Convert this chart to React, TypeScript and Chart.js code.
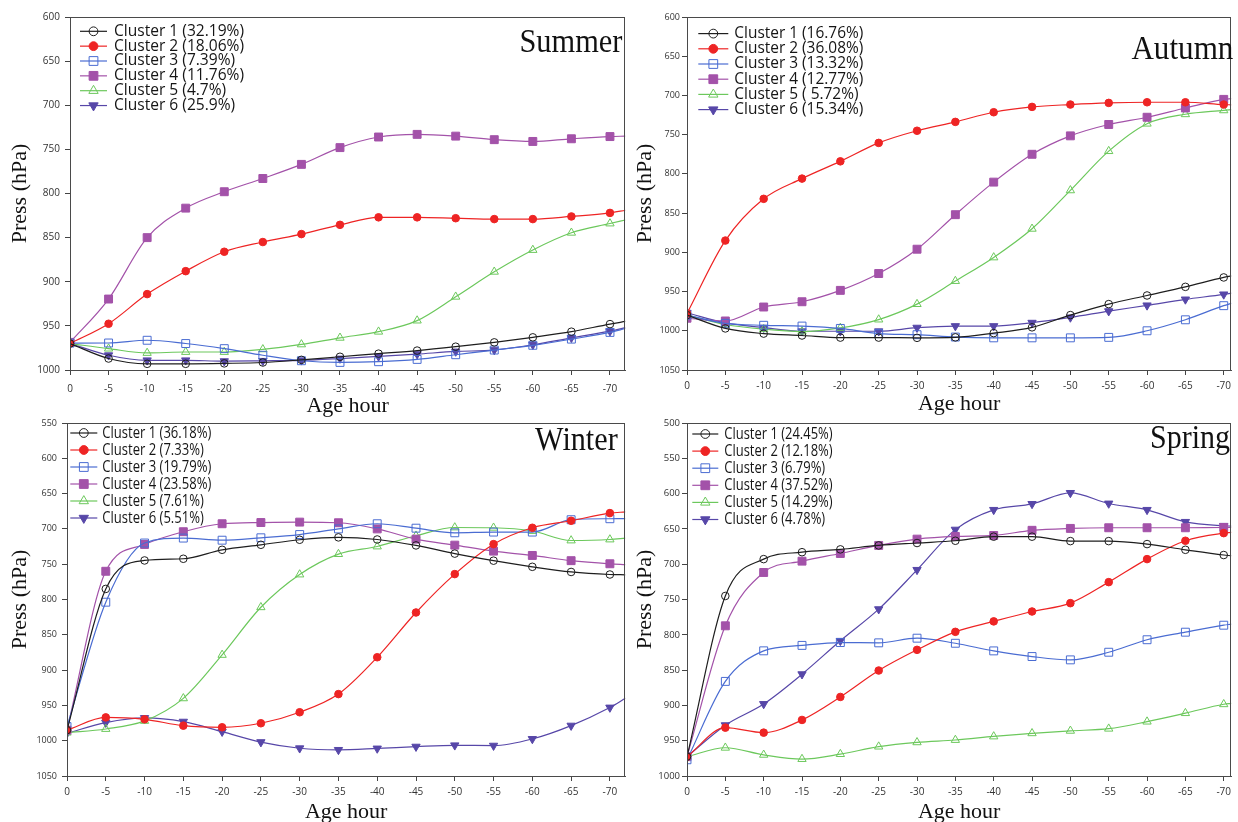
import React, { useEffect, useRef } from 'react';
import { Chart, registerables } from 'chart.js';
import { drawPoint } from 'chart.js/helpers';

Chart.register(...registerables);

// ---------- data ----------
const hours = [0, -5, -10, -15, -20, -25, -30, -35, -40, -45, -50, -55, -60, -65, -70];
const hourTicks = [-70, -65, -60, -55, -50, -45, -40, -35, -30, -25, -20, -15, -10, -5, 0];

const summerYTicks = [600, 650, 700, 750, 800, 850, 900, 950, 1000];
const autumnYTicks = [600, 650, 700, 750, 800, 850, 900, 950, 1000, 1050];
const winterYTicks = [550, 600, 650, 700, 750, 800, 850, 900, 950, 1000, 1050];
const springYTicks = [500, 550, 600, 650, 700, 750, 800, 850, 900, 950, 1000];

const summerLabels = ['Cluster 1 (32.19%)', 'Cluster 2 (18.06%)', 'Cluster 3 (7.39%)', 'Cluster 4 (11.76%)', 'Cluster 5 (4.7%)', 'Cluster 6 (25.9%)'];
const autumnLabels = ['Cluster 1 (16.76%)', 'Cluster 2 (36.08%)', 'Cluster 3 (13.32%)', 'Cluster 4 (12.77%)', 'Cluster 5 ( 5.72%)', 'Cluster 6 (15.34%)'];
const winterLabels = ['Cluster 1 (36.18%)', 'Cluster 2 (7.33%)', 'Cluster 3 (19.79%)', 'Cluster 4 (23.58%)', 'Cluster 5 (7.61%)', 'Cluster 6 (5.51%)'];
const springLabels = ['Cluster 1 (24.45%)', 'Cluster 2 (12.18%)', 'Cluster 3 (6.79%)', 'Cluster 4 (37.52%)', 'Cluster 5 (14.29%)', 'Cluster 6 (4.78%)'];

const summerC1 = [970, 987, 993, 993, 992.5, 991.5, 988.5, 985, 981.5, 978, 973.6, 968.7, 963, 956.6, 948];
const summerC2 = [970, 947.6, 914, 888, 866, 855, 846, 835.5, 827, 827, 828, 829, 829, 826, 822];
const summerC3 = [969.5, 969.4, 966.3, 970, 975.8, 983.3, 989.5, 991.4, 990.6, 988, 982.7, 977.4, 972, 965, 957.4];
const summerC4 = [968.7, 919.6, 850, 816.6, 798, 783, 767, 748, 736, 733, 735, 739, 741, 738, 735.5];
const summerC5 = [970, 975.8, 980.7, 979.6, 979.6, 976.6, 971, 963.5, 956.6, 944, 917, 888.7, 864, 844.5, 834];
const summerC6 = [970, 983.3, 989, 989, 990, 989.6, 989, 987, 984.6, 982, 979, 977.4, 971.4, 963.5, 956];
const summerEdge = [945, 819, 953, 735, 830, 952];

const autumnC1 = [980, 997, 1003.6, 1006, 1008.7, 1008.7, 1009, 1008.4, 1003, 995.6, 980, 966, 955, 944, 932];
const autumnC2 = [977.8, 885, 831.8, 806, 784, 760.5, 745, 733.7, 721.4, 714.6, 711.6, 709.5, 708.7, 708.7, 711.6];
const autumnC3 = [980, 990.5, 993, 994, 997, 1003.6, 1005, 1008, 1009, 1009, 1009, 1008.4, 1000, 986, 968];
const autumnC4 = [984, 987.5, 969.7, 963, 948.5, 927, 896, 852, 810.5, 775, 751.5, 737, 727.8, 716, 705];
const autumnC5 = [980, 992, 998, 1001, 996.4, 985.7, 966, 936.6, 906.5, 870, 821, 771, 736, 724, 719];
const autumnC6 = [977, 990, 996, 1000.6, 1000.6, 1000.6, 996, 994, 994, 989.7, 983, 975, 967.6, 960, 953.6];
const autumnEdge = [930, 712, 965, 704, 718, 952];

const winterC1 = [985, 785, 744.7, 742.3, 729.6, 722.5, 715.4, 712, 715, 723.4, 735, 745, 753.7, 761, 764.6];
const winterC2 = [985, 967, 969.7, 978.7, 981, 975.3, 959.7, 934, 881.8, 818.4, 764, 721.6, 698.4, 688.5, 677.6];
const winterC3 = [980, 803.8, 720, 713, 716, 712.6, 708, 700, 692.7, 699, 705.5, 704.5, 704.5, 687, 685.6];
const winterC4 = [985, 760, 722, 704, 692.7, 691, 690.4, 691.3, 700, 714.5, 723, 731.5, 737.6, 745, 749.4];
const winterC5 = [988.6, 983.4, 972, 940, 878.5, 811, 764.6, 735.7, 724.9, 709.7, 698, 698.4, 703, 716.4, 715];
const winterC6 = [989.5, 974.4, 967.8, 973, 987.2, 1002, 1010.7, 1013, 1011, 1008.4, 1006.5, 1007, 997.5, 978.6, 953];
const winterEdge = [765, 676, 685.5, 750.5, 713, 940];

const springC1 = [972.6, 745, 692.8, 683, 679, 673.4, 670, 666.8, 661, 661, 667.3, 667.3, 671.5, 679.6, 687];
const springC2 = [972.6, 931.5, 938.6, 920.6, 888, 850.6, 821.3, 795.8, 781, 767, 755.2, 725.4, 692.8, 666.8, 656];
const springC3 = [977, 866, 822.7, 815, 811, 811.4, 804.8, 812, 822.8, 830.8, 835.5, 824.7, 807, 796.3, 786.4];
const springC4 = [972.6, 787.3, 711.7, 695.7, 684.8, 673.4, 664.5, 660.7, 659.3, 652, 649.3, 648.4, 648.4, 648.4, 648];
const springC5 = [972.6, 960, 970, 976, 969, 958.4, 952.3, 949, 944, 939.5, 936, 933, 923, 911, 898.4];
const springC6 = [972.6, 928, 898, 855.8, 808.5, 763.7, 708, 651, 623, 614.6, 599, 614, 623, 640, 645.6];
const springEdge = [688, 655, 785, 648, 897, 646];

// ---------- styles ----------
const seriesStyles = [
  { color: '#1e1e1e', pointStyle: 'circle', filled: false, radius: 3.8, rotation: 0 },
  { color: '#ee2424', pointStyle: 'circle', filled: true, radius: 3.8, rotation: 0 },
  { color: '#4a6cd2', pointStyle: 'rect', filled: false, radius: 5.6, rotation: 0 },
  { color: '#a352a9', pointStyle: 'rect', filled: true, radius: 5.6, rotation: 0 },
  { color: '#6cc85c', pointStyle: 'triangle', filled: false, radius: 4.8, rotation: 0 },
  { color: '#5747a8', pointStyle: 'triangle', filled: true, radius: 4.8, rotation: 180 },
];

const SANS = '"Open Sans", "Noto Sans", sans-serif';
const SERIF = '"Liberation Serif", "DejaVu Serif", serif';

const panels = [
  {
    key: 'summer', title: 'Summer', labels: summerLabels,
    series: [summerC1, summerC2, summerC3, summerC4, summerC5, summerC6], edge: summerEdge,
    yTicks: summerYTicks, yMin: 600, yMax: 1000, xEnd: -72,
    box: { left: 0, top: 0, width: 632, height: 422 },
    area: { left: 70, right: 629, top: 17, bottom: 370 },
    yTickSize: 10, yTickPad: 5, xTickPad: 8, yTitlePad: 7, xTitlePad: 3,
    titlePos: { dx: -3, dy: 35, width: 103 },
    legend: { dy: 14.3, step: 14.85, x0: 10, x1: 37, mx: 23.5, tx: 44, width: 130, size: 15.5 },
  },
  {
    key: 'autumn', title: 'Autumn', labels: autumnLabels,
    series: [autumnC1, autumnC2, autumnC3, autumnC4, autumnC5, autumnC6], edge: autumnEdge,
    yTicks: autumnYTicks, yMin: 600, yMax: 1050, xEnd: -71,
    box: { left: 632, top: 0, width: 606, height: 422 },
    area: { left: 55, right: 606, top: 17, bottom: 370 },
    yTickSize: 9, yTickPad: 2, xTickPad: 5, yTitlePad: 0, xTitlePad: 5,
    titlePos: { dx: 2, dy: 41.6, width: 102 },
    legend: { dy: 16.6, step: 15.2, x0: 11.3, x1: 41.3, mx: 26.3, tx: 47.3, width: 129, size: 15.5 },
  },
  {
    key: 'winter', title: 'Winter', labels: winterLabels,
    series: [winterC1, winterC2, winterC3, winterC4, winterC5, winterC6], edge: winterEdge,
    yTicks: winterYTicks, yMin: 550, yMax: 1050, xEnd: -72,
    box: { left: 0, top: 410, width: 632, height: 420 },
    area: { left: 67, right: 627, top: 13, bottom: 366 },
    yTickSize: 9, yTickPad: 5, xTickPad: 5, yTitlePad: 7, xTitlePad: 5,
    titlePos: { dx: -7.7, dy: 26.5, width: 82.6 },
    legend: { dy: 10, step: 17, x0: 3.3, x1: 30.3, mx: 16.8, tx: 35.3, width: 109, size: 16 },
  },
  {
    key: 'spring', title: 'Spring', labels: springLabels,
    series: [springC1, springC2, springC3, springC4, springC5, springC6], edge: springEdge,
    yTicks: springYTicks, yMin: 500, yMax: 1000, xEnd: -71,
    box: { left: 632, top: 410, width: 606, height: 420 },
    area: { left: 55, right: 606, top: 13, bottom: 366 },
    yTickSize: 9.5, yTickPad: 2, xTickPad: 5, yTitlePad: 0, xTitlePad: 5,
    titlePos: { dx: -1.3, dy: 24.5, width: 80 },
    legend: { dy: 11, step: 17.1, x0: 5.3, x1: 31.3, mx: 18.3, tx: 37.3, width: 108.3, size: 16 },
  },
];

const decorPlugin = {
  id: 'decor',
  afterDraw(chart: any, _args: any, opts: any) {
    const { ctx, chartArea: a } = chart;
    const p = opts.panel;
    ctx.save();
    // full frame
    ctx.strokeStyle = '#4a4a4a';
    ctx.lineWidth = 1;
    ctx.strokeRect(Math.round(a.left) + 0.5, Math.round(a.top) + 0.5, Math.round(a.right - a.left) - 1, Math.round(a.bottom - a.top));

    // season title
    ctx.font = `34px ${SERIF}`;
    ctx.fillStyle = '#111';
    ctx.textAlign = 'right';
    ctx.textBaseline = 'alphabetic';
    const tw = ctx.measureText(p.title).width;
    const tsx = p.titlePos.width / tw;
    ctx.save();
    ctx.translate(a.right + p.titlePos.dx, a.top + p.titlePos.dy);
    ctx.scale(tsx, 1);
    ctx.fillText(p.title, 0, 0);
    ctx.restore();

    // legend
    const L = p.legend;
    ctx.font = `${L.size}px ${SANS}`;
    const w0 = ctx.measureText(p.labels[0]).width;
    const sx = L.width / w0;
    p.labels.forEach((lab: string, i: number) => {
      const st = seriesStyles[i];
      const y = a.top + L.dy + i * L.step;
      ctx.strokeStyle = st.color;
      ctx.lineWidth = 1.2;
      ctx.beginPath();
      ctx.moveTo(a.left + L.x0, y);
      ctx.lineTo(a.left + L.x1, y);
      ctx.stroke();
      ctx.fillStyle = st.filled ? st.color : 'rgba(0,0,0,0)';
      ctx.strokeStyle = st.color;
      ctx.lineWidth = 1;
      drawPoint(ctx, { pointStyle: st.pointStyle, radius: st.radius + 0.6, rotation: st.rotation, borderWidth: 1 } as any, a.left + L.mx, y);
      ctx.save();
      ctx.translate(a.left + L.tx, y);
      ctx.scale(sx, 1);
      ctx.fillStyle = '#151515';
      ctx.textAlign = 'left';
      ctx.textBaseline = 'middle';
      ctx.fillText(lab, 0, 0);
      ctx.restore();
    });
    ctx.restore();
  },
};

function Panel({ p }: { p: any }) {
  const ref = useRef<HTMLCanvasElement | null>(null);
  useEffect(() => {
    if (!ref.current) return;
    const n = hours.length;
    const datasets = p.series.map((vals: number[], i: number) => {
      const st = seriesStyles[i];
      const data = vals.map((v, j) => ({ x: hours[j], y: v }));
      data.push({ x: p.xEnd, y: p.edge[i] });
      return {
        label: p.labels[i],
        data,
        borderColor: st.color,
        backgroundColor: st.filled ? st.color : 'rgba(0,0,0,0)',
        pointBackgroundColor: st.filled ? st.color : 'rgba(0,0,0,0)',
        pointBorderColor: st.color,
        pointStyle: st.pointStyle,
        pointRadius: (c: any) => (c.dataIndex < n ? st.radius : 0),
        pointRotation: st.rotation,
        pointBorderWidth: 1,
        borderWidth: 1.2,
        cubicInterpolationMode: 'monotone',
        fill: false,
      };
    });
    const area = p.area;
    const chart = new Chart(ref.current, {
      type: 'line',
      data: { datasets },
      plugins: [decorPlugin],
      options: {
        responsive: false,
        animation: false,
        devicePixelRatio: 1,
        events: [],
        layout: { padding: { left: 0, right: p.box.width - area.right, top: area.top, bottom: 0 } },
        plugins: {
          legend: { display: false },
          tooltip: { enabled: false },
          decor: { panel: p },
        } as any,
        scales: {
          x: {
            type: 'linear',
            reverse: true,
            min: p.xEnd,
            max: 0,
            afterBuildTicks: (s: any) => { s.ticks = hourTicks.map((v) => ({ value: v })); },
            afterFit: (s: any) => { s.height = p.box.height - area.bottom; },
            ticks: {
              font: { family: SANS, size: 10 },
              color: '#333',
              padding: p.xTickPad,
              maxRotation: 0,
              autoSkip: false,
              callback: (v: any) => String(v),
            },
            grid: { drawOnChartArea: false, drawTicks: true, tickLength: 5, color: '#444' },
            border: { color: '#4a4a4a', width: 1 },
            title: {
              display: true,
              text: 'Age hour',
              font: { family: SERIF, size: 22 },
              color: '#111',
              padding: { top: 0, bottom: p.xTitlePad },
            },
          },
          y: {
            type: 'linear',
            reverse: true,
            min: p.yMin,
            max: p.yMax,
            afterBuildTicks: (s: any) => { s.ticks = p.yTicks.map((v: number) => ({ value: v })); },
            afterFit: (s: any) => { s.width = area.left; },
            ticks: {
              font: { family: SANS, size: p.yTickSize },
              color: '#333',
              padding: p.yTickPad,
              autoSkip: false,
              callback: (v: any) => String(v),
            },
            grid: { drawOnChartArea: false, drawTicks: true, tickLength: 5, color: '#444' },
            border: { color: '#4a4a4a', width: 1 },
            title: {
              display: true,
              text: 'Press (hPa)',
              font: { family: SERIF, size: 22 },
              color: '#111',
              padding: { top: p.yTitlePad, bottom: 0 },
            },
          },
        },
      } as any,
    });
    return () => chart.destroy();
  }, [p]);
  return (
    <canvas
      ref={ref}
      width={p.box.width}
      height={p.box.height}
      style={{ position: 'absolute', left: p.box.left, top: p.box.top, width: p.box.width, height: p.box.height }}
    />
  );
}

export default function App() {
  return (
    <div style={{ position: 'fixed', left: 0, top: 0, width: 1238, height: 822, overflow: 'hidden', background: '#fff' }}>
      {panels.map((p) => (
        <Panel key={p.key} p={p} />
      ))}
    </div>
  );
}
